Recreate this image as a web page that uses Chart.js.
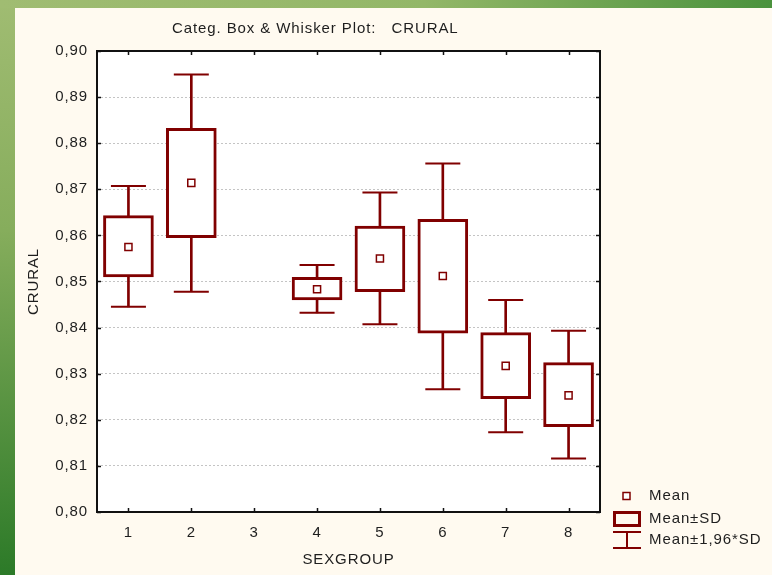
<!DOCTYPE html>
<html>
<head>
<meta charset="utf-8">
<script src="https://cdn.jsdelivr.net/npm/chart.js@4"></script>
<style>
  html, body { margin: 0; padding: 0; }
  body { width: 772px; height: 575px; position: relative; overflow: hidden; background: #fffaf0; }
  #side { position: absolute; left: 0; top: 0; width: 15px; height: 575px; background: linear-gradient(to bottom, #a0bc72, #86ad5c 40%, #2c7a28); }
  #topbar { position: absolute; left: 0; top: 0; width: 772px; height: 8px; background: linear-gradient(to right, #a0bc72, #93b768 55%, #4b923d); }
  #panel { position: absolute; left: 15px; top: 8px; width: 757px; height: 567px; background: #fffaf0; }
</style>
</head>
<body>
<div id="side"></div>
<div id="topbar"></div>
<div id="panel"><canvas id="box" width="757" height="567"></canvas></div>
<script>
// SEXGROUP categories (group 3 has no data)
const groups = ['1', '2', '3', '4', '5', '6', '7', '8'];
const means  = [0.8575, 0.8714, null, 0.8483, 0.8550, 0.8512, 0.8317, 0.8253];
const sdLow  = [0.8510, 0.8595, null, 0.8460, 0.8478, 0.8388, 0.8246, 0.8185];
const sdHigh = [0.8643, 0.8832, null, 0.8509, 0.8620, 0.8635, 0.8389, 0.8324];
const ciLow  = [0.8445, 0.8478, null, 0.8432, 0.8407, 0.8266, 0.8173, 0.8116];
const ciHigh = [0.8707, 0.8949, null, 0.8536, 0.8693, 0.8756, 0.8460, 0.8393];
const legendLabels = ['Mean', 'Mean±SD', 'Mean±1,96*SD'];
const chartTitle = 'Categ. Box & Whisker Plot:   CRURAL';

const RED = '#800000';
const FONT = 'Arial, "Liberation Sans", sans-serif';
const TXT = '#1e1e1e';
const FS = 15;

const range = (lo, hi) => lo.map((v, i) => v == null ? null : [v, hi[i]]);

const framePlugin = {
	id: 'frame',
	beforeDraw(chart) {
		const a = chart.chartArea, ctx = chart.ctx;
		// the original text is a bit wider than plain Arial
		ctx.letterSpacing = '0.9px';
		ctx.save();
		ctx.fillStyle = '#ffffff';
		ctx.fillRect(a.left, a.top, a.right - a.left, a.bottom - a.top);
		ctx.restore();
	},
	afterDraw(chart) {
		const a = chart.chartArea, ctx = chart.ctx;
		const xs = chart.scales.x, ys = chart.scales.y;
		ctx.save();
		ctx.strokeStyle = '#111';
		ctx.lineWidth = 2;
		ctx.strokeRect(a.left, a.top, a.right - a.left, a.bottom - a.top);
		// inward tick marks
		ctx.lineWidth = 1.5;
		ctx.beginPath();
		ys.ticks.forEach((t) => {
			const y = Math.round(ys.getPixelForValue(t.value)) + 0.5;
			ctx.moveTo(a.left, y); ctx.lineTo(a.left + 4, y);
			ctx.moveTo(a.right, y); ctx.lineTo(a.right - 4, y);
		});
		groups.forEach((g, i) => {
			const x = Math.round(xs.getPixelForValue(i)) + 0.5;
			ctx.moveTo(x, a.bottom); ctx.lineTo(x, a.bottom - 4);
			ctx.moveTo(x, a.top); ctx.lineTo(x, a.top + 4);
		});
		ctx.stroke();

		// title
		ctx.fillStyle = TXT;
		ctx.font = FS + 'px ' + FONT;
		ctx.textBaseline = 'middle';
		ctx.textAlign = 'left';
		ctx.fillText(chartTitle, 157, 21);

		// legend
		const lx = 598, tx = 634, ly = [488, 511, 532];
		ctx.strokeStyle = RED;
		ctx.fillStyle = '#fff';
		ctx.lineWidth = 1.5;
		ctx.fillRect(lx + 10, ly[0] - 3.5, 7, 7);
		ctx.strokeRect(lx + 10, ly[0] - 3.5, 7, 7);
		ctx.lineWidth = 3;
		ctx.strokeRect(lx + 1.5, ly[1] - 6.5, 25, 13);
		ctx.lineWidth = 2;
		ctx.beginPath();
		ctx.moveTo(lx, ly[2] - 8); ctx.lineTo(lx + 28, ly[2] - 8);
		ctx.moveTo(lx, ly[2] + 8); ctx.lineTo(lx + 28, ly[2] + 8);
		ctx.moveTo(lx + 14, ly[2] - 8); ctx.lineTo(lx + 14, ly[2] + 8);
		ctx.stroke();
		ctx.fillStyle = TXT;
		legendLabels.forEach((l, i) => ctx.fillText(l, tx, ly[i]));
		ctx.restore();
	}
};

new Chart(document.getElementById('box'), {
	type: 'bar',
	data: {
		labels: groups,
		datasets: [
			{
				type: 'line',
				label: legendLabels[0],
				data: means,
				showLine: false,
				pointStyle: 'rect',
				pointRadius: 5,
				pointBorderWidth: 1.5,
				pointBorderColor: RED,
				pointBackgroundColor: '#fff',
				order: 0,
			},
			{
				label: legendLabels[1],
				data: range(sdLow, sdHigh),
				backgroundColor: '#fff',
				borderColor: RED,
				borderWidth: 3,
				borderSkipped: false,
				barThickness: 50,
				grouped: false,
				order: 1,
			},
			{
				label: legendLabels[2],
				data: range(ciLow, ciHigh),
				backgroundColor: RED,
				borderWidth: 0,
				barThickness: 2,
				grouped: false,
				order: 2,
			},
			{
				type: 'line',
				label: 'capHigh',
				data: ciHigh,
				showLine: false,
				pointStyle: 'line',
				pointRadius: 17.5,
				pointBorderWidth: 2,
				pointBorderColor: RED,
				order: 3,
			},
			{
				type: 'line',
				label: 'capLow',
				data: ciLow,
				showLine: false,
				pointStyle: 'line',
				pointRadius: 17.5,
				pointBorderWidth: 2,
				pointBorderColor: RED,
				order: 3,
			},
		],
	},
	options: {
		responsive: false,
		devicePixelRatio: 1,
		animation: false,
		layout: { padding: { left: 0, top: 43, right: 172, bottom: 0 } },
		plugins: {
			legend: { display: false },
			tooltip: { enabled: false },
			title: { display: false },
		},
		scales: {
			x: {
				afterFit: (s) => { s.height = 63; },
				grid: { display: false },
				border: { display: false },
				ticks: { color: TXT, font: { family: FONT, size: FS }, padding: 4 },
				title: { display: true, text: 'SEXGROUP', color: TXT, font: { family: FONT, size: FS }, padding: 6 },
			},
			y: {
				min: 0.80,
				max: 0.90,
				afterFit: (s) => { s.width = 82; },
				grid: { color: '#c4c4c4', lineWidth: 1, drawTicks: false },
				border: { display: false, dash: [2, 2] },
				ticks: {
					stepSize: 0.01,
					padding: 9,
					color: TXT,
					font: { family: FONT, size: FS },
					callback: (v) => v.toFixed(2).replace('.', ','),
				},
				title: { display: true, text: 'CRURAL', color: TXT, font: { family: FONT, size: FS }, padding: 10 },
			},
		},
	},
	plugins: [framePlugin],
});
</script>
</body>
</html>
